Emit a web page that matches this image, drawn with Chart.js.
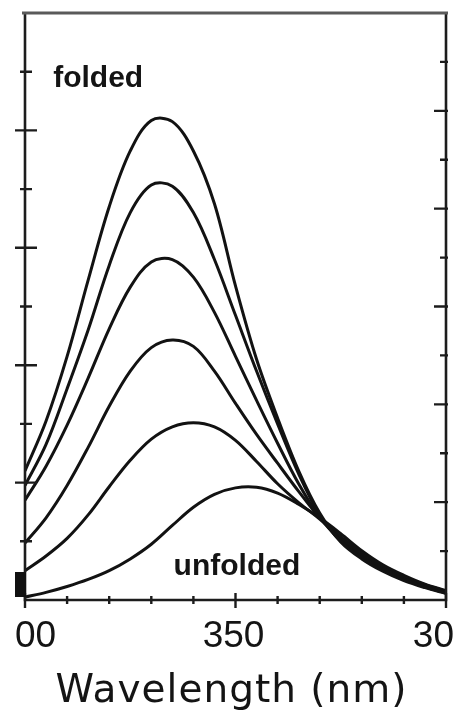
<!DOCTYPE html>
<html>
<head>
<meta charset="utf-8">
<script src="https://cdn.jsdelivr.net/npm/chart.js@4/dist/chart.umd.min.js"></script>
<style>
    html, body { margin: 0; padding: 0; background: #fff; }
    #spectra { display: block; }
</style>
</head>
<body>
<canvas id="spectra" width="453" height="714"></canvas>
<script>
// emission wavelengths (nm)
var wavelengths = [300, 305, 310, 315, 320, 325, 330, 335, 340, 345, 350,
                   355, 360, 365, 370, 375, 380, 385, 390, 395, 400];

// intensity, from folded (top) down to unfolded (bottom)
var spec1 = [2.20, 3.05, 4.15, 5.45, 6.70, 7.65, 8.17, 8.15, 7.65, 6.75, 5.35,
             4.10, 3.10, 2.20, 1.48, 0.99, 0.70, 0.49, 0.33, 0.21, 0.11];
var spec2 = [1.95, 2.65, 3.60, 4.60, 5.70, 6.60, 7.07, 7.05, 6.60, 5.80, 4.85,
             3.90, 3.00, 2.15, 1.45, 1.00, 0.72, 0.51, 0.35, 0.22, 0.12];
var spec3 = [1.70, 2.28, 2.98, 3.78, 4.62, 5.33, 5.76, 5.80, 5.50, 4.90, 4.15,
             3.40, 2.67, 1.98, 1.41, 1.02, 0.74, 0.53, 0.36, 0.23, 0.13];
var spec4 = [0.97, 1.40, 1.95, 2.60, 3.30, 3.90, 4.30, 4.43, 4.32, 3.90, 3.35,
             2.82, 2.33, 1.85, 1.40, 1.05, 0.77, 0.55, 0.38, 0.24, 0.14];
var spec5 = [0.50, 0.75, 1.05, 1.45, 1.93, 2.38, 2.74, 2.95, 3.02, 2.95, 2.72,
             2.36, 1.98, 1.66, 1.38, 1.08, 0.80, 0.58, 0.40, 0.26, 0.15];
var spec6 = [0.05, 0.13, 0.23, 0.35, 0.50, 0.70, 0.95, 1.27, 1.58, 1.80, 1.91,
             1.92, 1.82, 1.63, 1.40, 1.13, 0.84, 0.60, 0.42, 0.27, 0.16];

// axis ticks and labels
var xTicks = [300, 310, 320, 330, 340, 350, 360, 370, 380, 390, 400];
var xLabelValues = [300, 350, 400];
var xLabelTexts = ['00', '350', '30'];
var yTicks = [1, 2, 3, 4, 5, 6, 7, 8, 9];
var y2Ticks = [1, 2, 3, 4, 5, 6, 7, 8, 9, 10, 11];

function toPoints(vals) {
    return vals.map(function (v, i) { return {x: wavelengths[i], y: v}; });
}

var seriesList = [spec1, spec2, spec3, spec4, spec5, spec6];
var datasets = seriesList.map(function (s) {
    return {
        data: toPoints(s),
        borderColor: '#121212',
        borderWidth: 3,
        pointRadius: 0,
        fill: false,
        tension: 0.35
    };
});

// box, tick marks, labels and titles
var framePlugin = {
    id: 'frame',
    afterDatasetsDraw: function (chart) {
        var ctx = chart.ctx;
        var a = chart.chartArea;
        var x = chart.scales.x, y = chart.scales.y, y2 = chart.scales.y2;
        ctx.save();

        ctx.lineCap = 'butt';
        ctx.strokeStyle = '#1c1c1c';
        ctx.lineWidth = 2.6;
        ctx.beginPath();
        ctx.moveTo(a.left, a.top);
        ctx.lineTo(a.left, a.bottom);
        ctx.lineTo(a.right, a.bottom);
        ctx.lineTo(a.right, a.top);
        ctx.stroke();
        ctx.strokeStyle = '#5a5a5a';
        ctx.lineWidth = 3;
        ctx.beginPath();
        ctx.moveTo(a.left - 3, a.top);
        ctx.lineTo(a.right + 2, a.top);
        ctx.stroke();

        ctx.strokeStyle = '#1c1c1c';
        ctx.lineWidth = 2.4;
        ctx.beginPath();
        xTicks.forEach(function (v) {
            var px = x.getPixelForValue(v);
            var major = xLabelValues.indexOf(v) >= 0;
            ctx.moveTo(px, a.bottom - (major ? 7 : 4));
            ctx.lineTo(px, a.bottom + (major ? 8 : 4));
        });
        yTicks.forEach(function (v) {
            var py = y.getPixelForValue(v);
            var major = v % 2 === 0;
            ctx.moveTo(a.left - (major ? 10 : 5), py);
            ctx.lineTo(a.left + (major ? 12 : 7), py);
        });
        y2Ticks.forEach(function (v) {
            var py = y2.getPixelForValue(v);
            ctx.moveTo(a.right - (v % 2 === 0 ? 12 : 6), py);
            ctx.lineTo(a.right + 2, py);
        });
        ctx.stroke();

        // solid block at the lower left corner
        ctx.fillStyle = '#111';
        ctx.fillRect(a.left - 10, a.bottom - 28, 11, 25);

        ctx.fillStyle = '#141414';
        ctx.textBaseline = 'alphabetic';
        ctx.font = '37px "Liberation Sans", Arial, sans-serif';
        xLabelValues.forEach(function (v, i) {
            var px = x.getPixelForValue(v);
            if (i === 0) {
                ctx.textAlign = 'left';
                ctx.fillText(xLabelTexts[i], px - 10, a.bottom + 47);
            } else if (i === xLabelValues.length - 1) {
                ctx.textAlign = 'right';
                ctx.fillText(xLabelTexts[i], px + 8, a.bottom + 47);
            } else {
                ctx.textAlign = 'center';
                ctx.fillText(xLabelTexts[i], px - 2, a.bottom + 47);
            }
        });

        ctx.font = '39px "DejaVu Sans", sans-serif';
        ctx.letterSpacing = '1px';
        ctx.textAlign = 'center';
        ctx.fillText('Wavelength (nm)', (a.left + a.right) / 2 - 4, a.bottom + 102);
        ctx.letterSpacing = '0px';

        ctx.font = 'bold 30px "Liberation Sans", Arial, sans-serif';
        ctx.textAlign = 'left';
        ctx.fillText('folded', x.getPixelForValue(306.7), y.getPixelForValue(8.74));
        ctx.fillText('unfolded', x.getPixelForValue(335.3), y.getPixelForValue(0.43));

        ctx.restore();
    }
};

var spectraChart = new Chart(document.getElementById('spectra').getContext('2d'), {
    type: 'line',
    data: { datasets: datasets },
    options: {
        responsive: false,
        animation: false,
        devicePixelRatio: 1,
        layout: { padding: { left: 25, right: 7, top: 13, bottom: 114 } },
        plugins: { legend: { display: false }, tooltip: { enabled: false } },
        scales: {
            x: { type: 'linear', min: 300, max: 400, display: false },
            y: { min: 0, max: 10, display: false },
            y2: { position: 'right', min: 0, max: 12, display: false }
        }
    },
    plugins: [framePlugin]
});
</script>
</body>
</html>
